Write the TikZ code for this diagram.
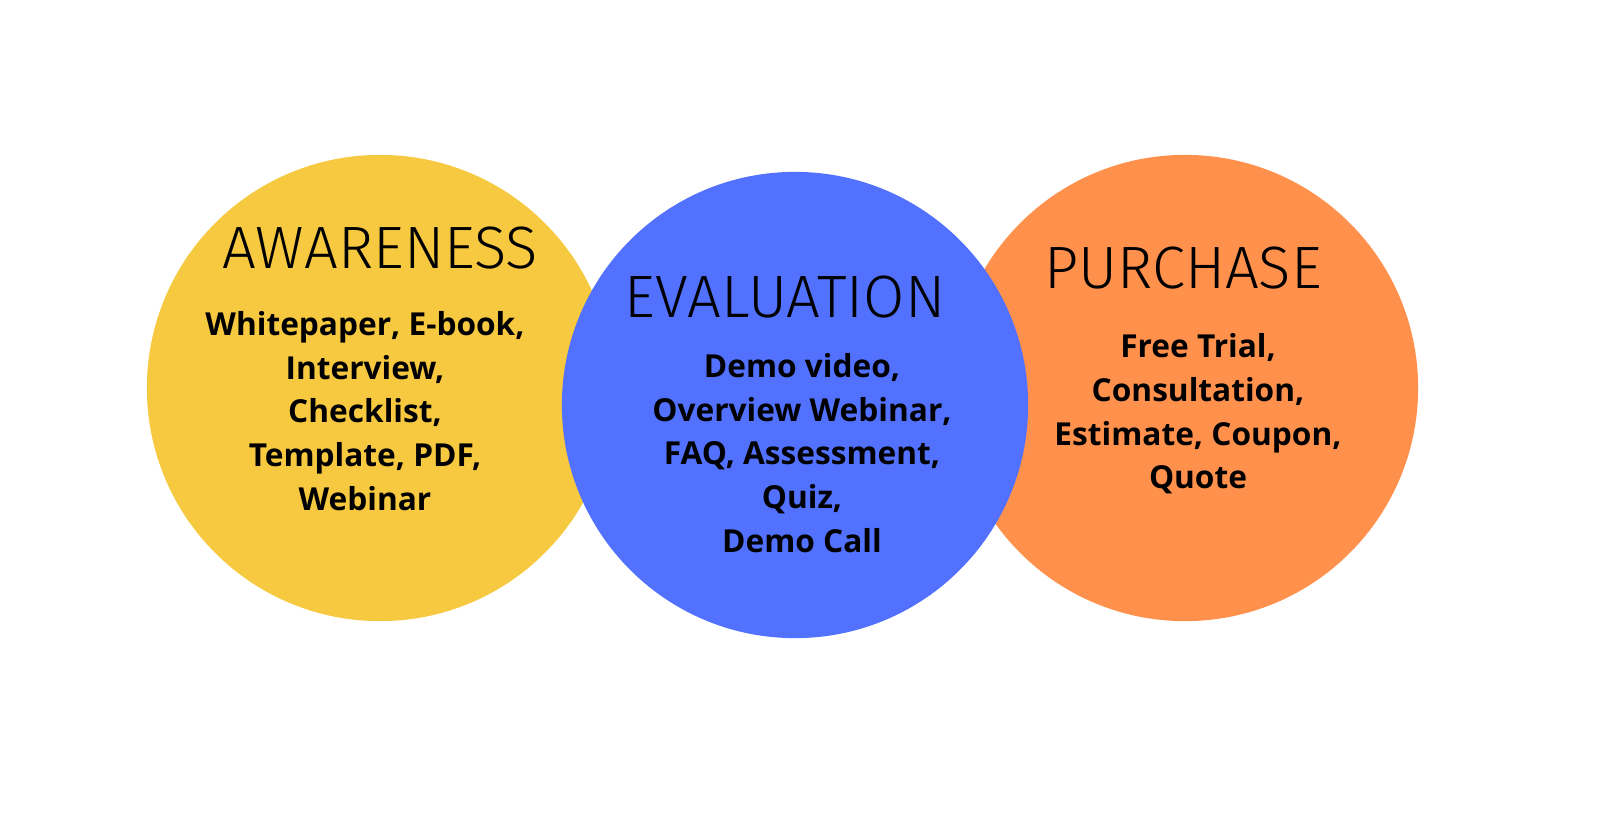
\documentclass[tikz,border=0pt]{standalone}
\usepackage{fontspec}
\setmainfont{Open Sans}
\newfontfamily\titlefont{Fira Sans Light}
\definecolor{cy}{HTML}{F7C940}
\definecolor{cb}{HTML}{5271FF}
\definecolor{co}{HTML}{FF914D}
\begin{document}
\begin{tikzpicture}[x=0.01cm,y=-0.01cm,
  disc/.style={circle,minimum size=4.66cm,inner sep=0pt,outer sep=0pt},
  ttl/.style={font=\titlefont\fontsize{17}{20}\selectfont},
  body/.style={font=\bfseries\fontsize{9}{12.4}\selectfont,align=center}]
\useasboundingbox (0,0) rectangle (1600,827);
\node[disc,fill=cy] (y) at (380,388) {};
\node[disc,fill=co] (o) at (1185,388) {};
\node[disc,fill=cb] (b) at (795,405) {};
\node[ttl] (t1) at (380,248) {AWARENESS};
\node[body] (b1) at (365,411) {Whitepaper, E-book,\\Interview,\\Checklist,\\Template, PDF,\\Webinar};
\node[ttl] (t2) at (785,297) {EVALUATION};
\node[body] (b2) at (802,453) {Demo video,\\Overview Webinar,\\FAQ, Assessment,\\Quiz,\\Demo Call};
\node[ttl] (t3) at (1183,268) {PURCHASE};
\node[body] (b3) at (1198,414) {Free Trial,\\Consultation,\\Estimate, Coupon,\\Quote};
\end{tikzpicture}
\end{document}
